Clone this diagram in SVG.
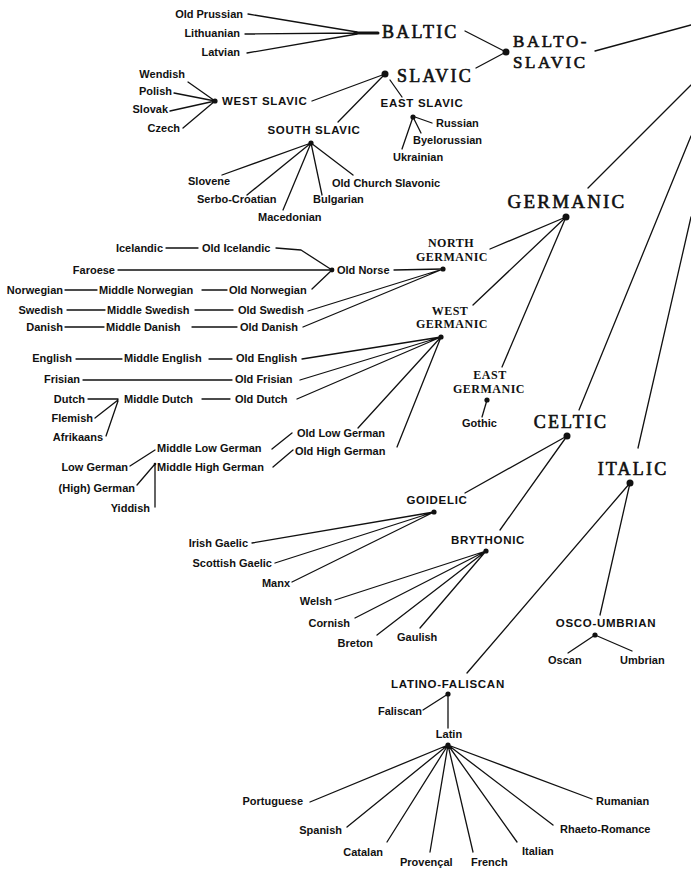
<svg xmlns="http://www.w3.org/2000/svg" width="691" height="869" viewBox="0 0 691 869">
<style>
text{fill:#111}
.l{font-family:"Liberation Sans",Arial,sans-serif;font-weight:bold;font-size:11px}
.c{font-family:"Liberation Sans",Arial,sans-serif;font-weight:bold;font-size:11.5px;letter-spacing:0.7px}
.s{font-family:"Liberation Serif","Times New Roman",serif;font-weight:bold;font-size:12px;letter-spacing:0.5px}
.b{font-family:"Liberation Serif","Times New Roman",serif;font-size:18px;letter-spacing:2.2px;stroke:#111;stroke-width:0.6}
.e{text-anchor:end}
.m{text-anchor:middle}
.d{fill:#111}
#connectors path{fill:none;stroke:#111;stroke-width:1.3;stroke-linecap:round;stroke-linejoin:round}
</style>
<rect width="691" height="869" fill="#fff"/>
<g id="connectors">
<path d="M248,14 L357,32 M245,34 L357,33 M247,53 L357,34"/>
<path d="M355,33 L378,33" style="stroke-width:3"/>
<path d="M465,31 L506,52 M476,68 L506,52 M595,51 L691,25"/>
<path d="M312,101 L385,74 M338,122 L385,74 M390,80 L402,97"/>
<path d="M188,82 L215,101 M174,93 L215,101 M170,111 L215,101 M183,128 L215,101"/>
<path d="M415,117 L432,123 M413,117 L421,133 M413,117 L402,149"/>
<path d="M222,175 L311,143 M247,195 L311,143 M283,210 L311,143 M322,195 L311,143 M353,175 L311,143"/>
<path d="M691,85 L588,188 M566,217 L490,249 M566,217 L473,305 M566,217 L502,367"/>
<path d="M394,270 L443,269 M308,311 L443,269 M303,327 L443,269"/>
<path d="M276,248 L301,250 L332,270 M118,270 L332,270 M312,289 L332,270"/>
<path d="M166,248 L198,248 M65,290 L97,290 M202,290 L227,290 M67,310 L105,310 M195,310 L233,310 M65,327 L104,327 M192,327 L237,327"/>
<path d="M302,359 L441,337 M300,380 L441,337 M297,399 L441,337 M358,428 L441,337 M397,447 L441,337"/>
<path d="M76,359 L122,359 M209,359 L232,359 M83,380 L232,380 M88,399 L118,399 M202,399 L230,399 M95,418 L118,400 M106,436 L118,401"/>
<path d="M272,449 L292,433 M273,467 L293,450 M130,466 L155,450 M137,485 L155,464 M155,464 L155,507"/>
<path d="M487,400 L482,417"/>
<path d="M691,136 L579,410 M567,436 L465,493 M567,436 L500,530"/>
<path d="M252,543 L434,512 M275,563 L434,512 M292,582 L434,512"/>
<path d="M335,600 L486,551 M355,618 L486,551 M377,635 L486,551 M420,628 L486,551"/>
<path d="M691,217 L638,448 M630,483 L467,673 M630,483 L600,615"/>
<path d="M568,653 L595,635 M632,651 L595,635"/>
<path d="M423,710 L448,694 M448,694 L448,728"/>
<path d="M310,802 L448,745 M347,827 L448,745 M387,842 L448,745 M430,852 L448,745 M473,852 L448,745 M517,842 L448,745 M553,825 L448,745 M592,799 L448,745"/>
</g>
<g id="old-prussian"><text class="l e" x="243" y="18">Old Prussian</text></g>
<g id="lithuanian"><text class="l e" x="240" y="37">Lithuanian</text></g>
<g id="latvian"><text class="l e" x="240" y="56">Latvian</text></g>
<g id="baltic"><text class="b" x="382" y="38">BALTIC</text></g>
<g id="balto-slavic"><circle class="d" cx="506" cy="52" r="3.5"/><text class="b" style="font-size:17px;letter-spacing:2.6px"><tspan x="513" y="47">BALTO-</tspan><tspan x="513" y="68">SLAVIC</tspan></text></g>
<g id="slavic"><circle class="d" cx="385" cy="74" r="3.5"/><text class="b" x="397" y="82">SLAVIC</text></g>
<g id="west-slavic"><circle class="d" cx="215" cy="101" r="2.6"/><text class="c" x="222" y="105">WEST SLAVIC</text></g>
<g id="wendish"><text class="l e" x="185" y="78">Wendish</text></g>
<g id="polish"><text class="l e" x="172" y="95">Polish</text></g>
<g id="slovak"><text class="l e" x="168" y="113">Slovak</text></g>
<g id="czech"><text class="l e" x="180" y="132">Czech</text></g>
<g id="east-slavic"><circle class="d" cx="413" cy="117" r="2.6"/><text class="c m" x="422" y="107">EAST SLAVIC</text></g>
<g id="russian"><text class="l" x="436" y="127">Russian</text></g>
<g id="byelorussian"><text class="l" x="413" y="144">Byelorussian</text></g>
<g id="ukrainian"><text class="l" x="393" y="161">Ukrainian</text></g>
<g id="south-slavic"><circle class="d" cx="311" cy="143" r="2.6"/><text class="c m" x="314" y="134">SOUTH SLAVIC</text></g>
<g id="slovene"><text class="l" x="188" y="185">Slovene</text></g>
<g id="serbo-croatian"><text class="l" x="197" y="203">Serbo-Croatian</text></g>
<g id="macedonian"><text class="l" x="258" y="221">Macedonian</text></g>
<g id="bulgarian"><text class="l" x="313" y="203">Bulgarian</text></g>
<g id="old-church-slavonic"><text class="l" x="332" y="187">Old Church Slavonic</text></g>
<g id="germanic"><circle class="d" cx="566" cy="217" r="3.5"/><text class="b m" x="567" y="208" style="font-size:19px">GERMANIC</text></g>
<g id="north-germanic"><circle class="d" cx="443" cy="269" r="2.6"/><text class="s m"><tspan x="451" y="247">NORTH</tspan><tspan x="452" y="261">GERMANIC</tspan></text></g>
<g id="old-norse"><circle class="d" cx="332" cy="270" r="2.4"/><text class="l" x="337" y="274">Old Norse</text></g>
<g id="icelandic"><text class="l e" x="163" y="252">Icelandic</text><text class="l" x="202" y="252">Old Icelandic</text></g>
<g id="faroese"><text class="l e" x="115" y="274">Faroese</text></g>
<g id="norwegian"><text class="l e" x="63" y="294">Norwegian</text><text class="l" x="99" y="294">Middle Norwegian</text><text class="l" x="229" y="294">Old Norwegian</text></g>
<g id="swedish"><text class="l e" x="63" y="314">Swedish</text><text class="l" x="107" y="314">Middle Swedish</text><text class="l" x="238" y="314">Old Swedish</text></g>
<g id="danish"><text class="l e" x="63" y="331">Danish</text><text class="l" x="106" y="331">Middle Danish</text><text class="l" x="240" y="331">Old Danish</text></g>
<g id="west-germanic"><circle class="d" cx="441" cy="337" r="2.6"/><text class="s m"><tspan x="450" y="315">WEST</tspan><tspan x="452" y="328">GERMANIC</tspan></text></g>
<g id="english"><text class="l e" x="72" y="362">English</text><text class="l" x="124" y="362">Middle English</text><text class="l" x="236" y="362">Old English</text></g>
<g id="frisian"><text class="l e" x="80" y="383">Frisian</text><text class="l" x="235" y="383">Old Frisian</text></g>
<g id="dutch"><text class="l e" x="85" y="403">Dutch</text><text class="l" x="124" y="403">Middle Dutch</text><text class="l" x="235" y="403">Old Dutch</text></g>
<g id="flemish"><text class="l e" x="93" y="422">Flemish</text></g>
<g id="afrikaans"><text class="l e" x="103" y="441">Afrikaans</text></g>
<g id="old-low-german"><text class="l" x="297" y="437">Old Low German</text></g>
<g id="old-high-german"><text class="l" x="295" y="455">Old High German</text></g>
<g id="middle-low-german"><text class="l" x="157" y="452">Middle Low German</text></g>
<g id="middle-high-german"><circle class="d" cx="155" cy="464" r="1.3"/><text class="l" x="157" y="471">Middle High German</text></g>
<g id="low-german"><text class="l e" x="128" y="471">Low German</text></g>
<g id="high-german"><text class="l e" x="135" y="492">(High) German</text></g>
<g id="yiddish"><text class="l e" x="150" y="512">Yiddish</text></g>
<g id="east-germanic"><circle class="d" cx="487" cy="400" r="2.6"/><text class="s m"><tspan x="490" y="379">EAST</tspan><tspan x="489" y="393">GERMANIC</tspan></text></g>
<g id="gothic"><text class="l" x="462" y="427">Gothic</text></g>
<g id="celtic"><circle class="d" cx="567" cy="436" r="3.5"/><text class="b m" x="571" y="428">CELTIC</text></g>
<g id="goidelic"><circle class="d" cx="434" cy="512" r="2.6"/><text class="c m" x="437" y="504">GOIDELIC</text></g>
<g id="irish-gaelic"><text class="l e" x="248" y="547">Irish Gaelic</text></g>
<g id="scottish-gaelic"><text class="l e" x="272" y="567">Scottish Gaelic</text></g>
<g id="manx"><text class="l e" x="290" y="587">Manx</text></g>
<g id="brythonic"><circle class="d" cx="486" cy="551" r="2.6"/><text class="c m" x="488" y="544">BRYTHONIC</text></g>
<g id="welsh"><text class="l e" x="332" y="605">Welsh</text></g>
<g id="cornish"><text class="l e" x="350" y="627">Cornish</text></g>
<g id="breton"><text class="l e" x="373" y="647">Breton</text></g>
<g id="gaulish"><text class="l" x="397" y="641">Gaulish</text></g>
<g id="italic"><circle class="d" cx="630" cy="483" r="3.5"/><text class="b m" x="633" y="475">ITALIC</text></g>
<g id="osco-umbrian"><circle class="d" cx="595" cy="635" r="2.6"/><text class="c m" x="606" y="627">OSCO-UMBRIAN</text></g>
<g id="oscan"><text class="l" x="548" y="664">Oscan</text></g>
<g id="umbrian"><text class="l" x="620" y="664">Umbrian</text></g>
<g id="latino-faliscan"><circle class="d" cx="448" cy="694" r="2.6"/><text class="c m" x="448" y="688">LATINO-FALISCAN</text></g>
<g id="faliscan"><text class="l e" x="422" y="715">Faliscan</text></g>
<g id="latin"><circle class="d" cx="448" cy="745" r="2.6"/><text class="l m" x="449" y="738">Latin</text></g>
<g id="portuguese"><text class="l e" x="303" y="805">Portuguese</text></g>
<g id="spanish"><text class="l e" x="342" y="834">Spanish</text></g>
<g id="catalan"><text class="l e" x="383" y="856">Catalan</text></g>
<g id="provencal"><text class="l" x="400" y="866">Provençal</text></g>
<g id="french"><text class="l" x="471" y="866">French</text></g>
<g id="italian"><text class="l" x="522" y="855">Italian</text></g>
<g id="rhaeto-romance"><text class="l" x="560" y="833">Rhaeto-Romance</text></g>
<g id="rumanian"><text class="l" x="596" y="805">Rumanian</text></g>
</svg>
